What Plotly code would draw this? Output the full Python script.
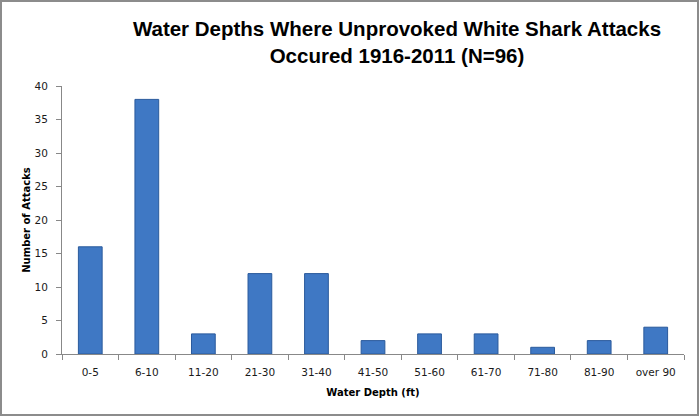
import plotly.graph_objects as go

categories = ["0-5", "6-10", "11-20", "21-30", "31-40", "41-50", "51-60", "61-70", "71-80", "81-90", "over 90"]
attacks = [16, 38, 3, 12, 12, 2, 3, 3, 1, 2, 4]

fig = go.Figure()
fig.add_trace(go.Bar(
    x=categories, y=attacks,
    width=0.42,
    marker=dict(color="#3f78c4", line=dict(color="#2a5a9c", width=1)),
))

W, H = 700, 417
L, R, T, B = 62, 16, 86, 63
pw = W - L - R
ph = H - T - B

fig.update_layout(
    width=W, height=H,
    margin=dict(l=L, r=R, t=T, b=B, autoexpand=False),
    paper_bgcolor="white", plot_bgcolor="white",
    showlegend=False,
    title=dict(
        text="Water Depths Where Unprovoked White Shark Attacks<br>Occured 1916-2011 (N=96)",
        font=dict(family="Liberation Sans, Arial, sans-serif", size=20.5, color="black", weight="bold"),
        x=(397 - L) / pw, xref="paper", xanchor="center",
        y=1 - 36 / H, yanchor="middle",
    ),
    font=dict(family="DejaVu Sans, Verdana, sans-serif", size=11, color="#1a1a1a"),
    xaxis=dict(
        type="category", automargin=False,
        showline=True, linecolor="#888888", linewidth=1,
        ticks="outside", tickson="boundaries", ticklen=5, tickcolor="#888888",
        ticklabelstandoff=8,
        showgrid=False,
        tickfont=dict(size=10.5, color="#1a1a1a"),
        title=dict(text="Water Depth (ft)", font=dict(size=10, color="black", weight="bold"), standoff=12),
    ),
    yaxis=dict(
        range=[0, 40], dtick=5, automargin=False,
        showline=True, linecolor="#888888", linewidth=1,
        ticks="outside", ticklen=5, tickcolor="#888888",
        ticklabelstandoff=6,
        showgrid=False, zeroline=False,
        tickfont=dict(size=10.5, color="#1a1a1a"),
        title=dict(text="Number of Attacks", font=dict(size=10, color="black", weight="bold"), standoff=2),
    ),
)

# outer frame around the whole chart
fig.add_shape(
    type="rect", xref="paper", yref="paper",
    x0=(1 - L) / pw, x1=(W - 2 - L) / pw,
    y0=-(B - 2) / ph, y1=1 + (T - 1) / ph,
    line=dict(color="#8c8c8c", width=2), fillcolor="rgba(0,0,0,0)", layer="below",
)

fig.write_html("out.html", config={"displayModeBar": False},
               post_script="document.body.style.margin='0';")
